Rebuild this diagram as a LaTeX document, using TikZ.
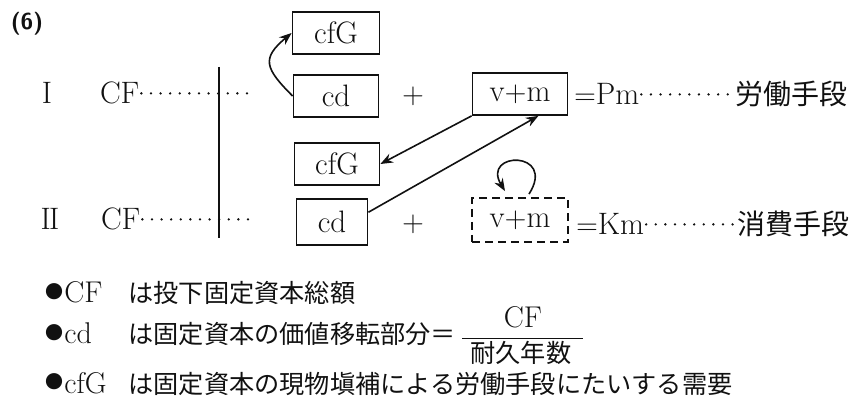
\documentclass[tikz,border=0pt]{standalone}
\usepackage{fontspec}
\usepackage{amsmath}
\usetikzlibrary{arrows.meta, calc}
\newfontfamily\jp{Noto Sans CJK JP}
\definecolor{ink}{HTML}{111111}
\tikzset{
  term/.style={draw=ink, line width=0.9pt, inner sep=0pt, minimum height=21pt,
               text=ink, font=\fontsize{15.5}{18}\selectfont},
  termd/.style={term, dash pattern=on 4pt off 2.5pt},
  txt/.style={inner sep=0.8pt, text=ink, font=\fontsize{15.5}{18}\selectfont},
  jtxt/.style={inner sep=0.8pt, text=ink, font=\fontsize{14}{16}\selectfont\jp},
  note/.style={inner sep=0pt, anchor=base west, text=ink, font=\fontsize{15}{17}\selectfont},
  jnote/.style={note, font=\fontsize{12.6}{15}\selectfont\jp},
  lead/.style={draw=ink, line width=1.3pt, line cap=round, dash pattern=on 0pt off 4.8pt},
  flow/.style={-{Stealth[length=2.2mm, width=1.7mm]}, line width=0.8pt, draw=ink},
}
\newcommand{\dotb}{\raisebox{2pt}{\jp\fontsize{9}{9}\selectfont ●}\kern0.5pt}

\begin{document}
\begin{tikzpicture}[x=0.5pt, y=0.5pt]
  \useasboundingbox (0,0) rectangle (849,406);
  \node[txt, font=\fontsize{11.5}{13}\selectfont\sffamily\bfseries] (num) at (27,382) {(6)};

  % rows I and II
  \node[txt, anchor=base] (rI) at (47,302) {I};
  \node[txt, anchor=base west] (cfA) at (98,302) {CF};
  \node[txt, anchor=base] (rII) at (50,176) {I\kern-0.8pt I};
  \node[txt, anchor=base west] (cfB) at (99,176) {CF};
  \coordinate (endA) at (253,313);
  \coordinate (endB) at (254,184);
  \coordinate (divT) at (219,339);
  \coordinate (divB) at (219,168);
  \draw[lead] (cfA.east) -- (cfA.east -| endA);
  \draw[lead] (cfB.east) -- (cfB.east -| endB);
  \draw[ink, line width=1.4pt] (divT) -- (divB);

  \node[term, minimum width=43.5pt] (cfGa) at (336,373) {cfG};
  \node[term, minimum width=42.5pt] (cdA) at (336,310) {cd};
  \node[term, minimum width=47.5pt] (vmA) at (520,312) {v$+$m};
  \node[term, minimum width=42.5pt] (cfGb) at (337,242) {cfG};
  \node[term, minimum width=35.5pt, minimum height=23pt] (cdB) at (332,184) {cd};
  \node[termd, minimum width=48pt, minimum height=22pt] (vmB) at (520,186) {v$+$m};

  \node[txt, anchor=base] (plA) at (413,302) {$+$};
  \node[txt, anchor=base] (plB) at (413,174) {$+$};

  \node[txt, anchor=base west] (pmA) at (572,301) {$=$Pm};
  \node[jtxt, anchor=base west] (jpA) at (733,301) {労働手段};
  \node[txt, anchor=base west] (kmB) at (574,171) {$=$Km};
  \node[jtxt, anchor=base west] (jpB) at (735,171) {消費手段};
  \draw[lead] (pmA.east) -- (pmA.east -| jpA.west);
  \draw[lead] (kmB.east) -- (kmB.east -| jpB.west);

  \draw[flow] (cdA.west) to[out=135, in=220, looseness=1.6] (cfGa.west);
  \draw[flow] (vmA.south west) -- (cfGb.east);
  \draw[flow] (cdB.15) -- (vmA.310);
  \draw[flow] ($(vmB.north)+(9,3)$) .. controls +(28,44) and +(-24,40) .. ($(vmB.north)+(-15,6)$);

  % notes
  \node[note] (b1) at (45,103) {\dotb CF};
  \node[jnote] (j1) at (128,103) {は投下固定資本総額};
  \node[note] (b2) at (45,62) {\dotb cd};
  \node[jnote] (j2) at (128,62) {は固定資本の価値移転部分＝\kern2pt$\dfrac{\mbox{\rmfamily\fontsize{15}{17}\selectfont CF}}{\mbox{\kern4pt 耐久年数\kern6pt}}$};
  \node[note] (b3) at (45,13) {\dotb cfG};
  \node[jnote] (j3) at (128,13) {は固定資本の現物塡補による労働手段にたいする需要};
\end{tikzpicture}
\end{document}
